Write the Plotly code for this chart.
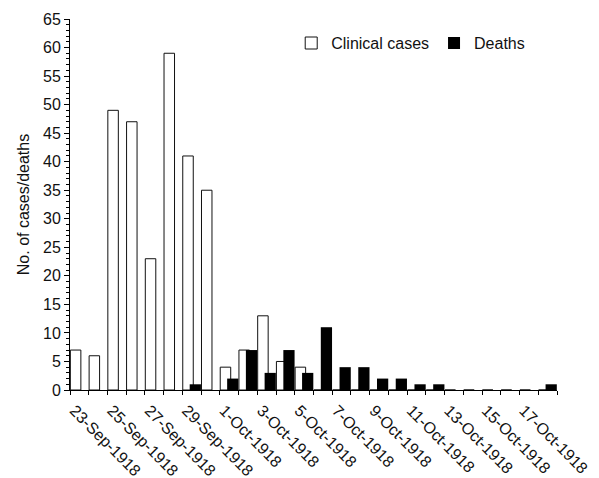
import plotly.graph_objects as go
import pandas as pd

dates = pd.date_range("1918-09-23", "1918-10-18", freq="D")
clinical_cases = [7, 6, 49, 47, 23, 59, 41, 35, 4, 7, 13, 5, 4, 0, 0, 0, 0, 0, 0, 0, 0, 0, 0, 0, 0, 0]
deaths = [0, 0, 0, 0, 0, 0, 1, 0, 2, 7, 3, 7, 3, 11, 4, 4, 2, 2, 1, 1, 0, 0, 0, 0, 0, 1]
label_dates = dates[::2][:13]
y_ticks = list(range(0, 66, 5))

DAY = 86400000
FONT = "Liberation Sans, Arial, sans-serif"

fig = go.Figure()
fig.add_trace(go.Bar(
    x=dates, y=clinical_cases, name="Clinical cases",
    marker=dict(color="white", line=dict(color="#111", width=1)),
    offset=-0.48 * DAY, width=0.56 * DAY,
))
fig.add_trace(go.Bar(
    x=dates, y=deaths, name="Deaths",
    marker=dict(color="black", line=dict(color="black", width=0)),
    offset=-0.11 * DAY, width=0.6 * DAY,
))

# the page body has an 8px margin, so the figure is drawn 8px in from the top-left
fig.update_layout(
    width=591, height=470,
    margin=dict(l=62, r=42, t=11, b=88),
    plot_bgcolor="white", paper_bgcolor="white",
    barmode="overlay",
    font=dict(family=FONT, size=16, color="#111"),
    showlegend=True,
    legend=dict(orientation="h", x=0.945, xanchor="right", y=0.935, yanchor="middle",
                font=dict(size=16), itemwidth=30, tracegroupgap=0,
                bgcolor="rgba(0,0,0,0)"),
    xaxis=dict(
        type="date", automargin=False,
        range=[dates[0] - pd.Timedelta(hours=12), dates[-1] + pd.Timedelta(hours=12)],
        tickmode="array", tickvals=label_dates, tickformat="%-d-%b-%Y",
        tickangle=45, ticks="", showgrid=False,
        ticklabelshift=-5, ticklabelstandoff=4,
        showline=True, linecolor="black", linewidth=1,
        minor=dict(tickmode="linear", tick0=dates[0] - pd.Timedelta(hours=12), dtick=DAY,
                   ticks="outside", ticklen=4, tickcolor="black", showgrid=False),
        tickfont=dict(size=16),
        zeroline=False,
    ),
    yaxis=dict(
        range=[0, 65], tickmode="array", tickvals=y_ticks, automargin=False,
        ticks="outside", ticklen=5, tickcolor="black",
        showline=True, linecolor="black", linewidth=1, showgrid=False, zeroline=False,
        minor=dict(dtick=1, ticks="outside", ticklen=3, tickcolor="black", showgrid=False),
        title=dict(text="No. of cases/deaths", font=dict(size=16), standoff=9),
        tickfont=dict(size=16),
    ),
)

fig.write_html("out.html")
